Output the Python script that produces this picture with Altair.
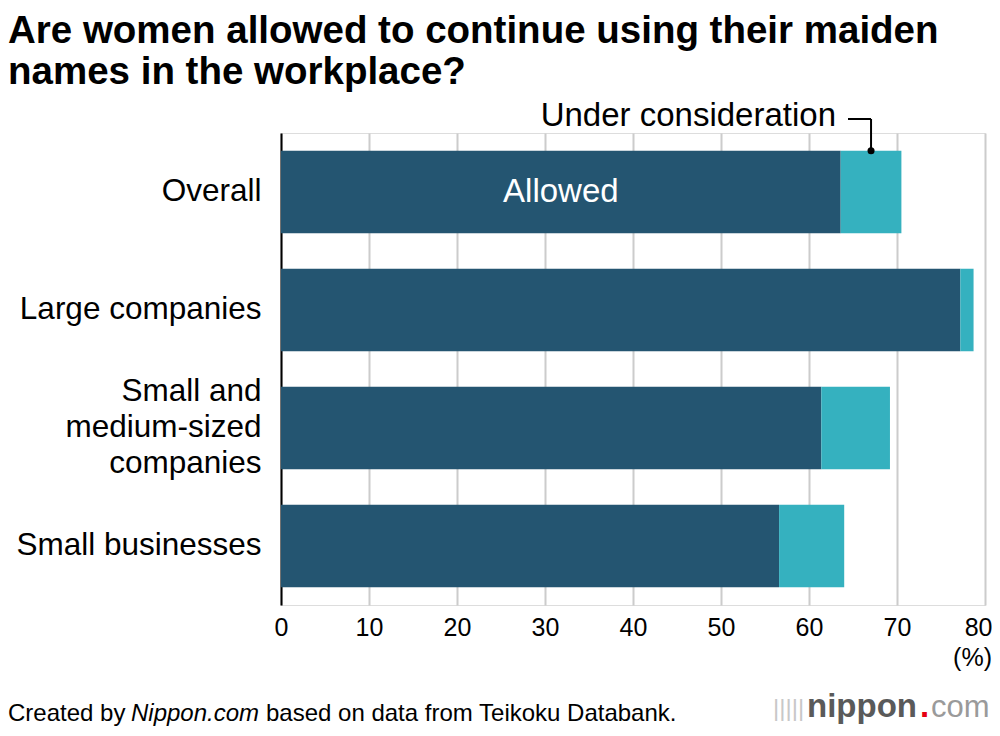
import altair as alt
import pandas as pd

categories = ["Overall", "Large companies", "Small and medium-sized companies", "Small businesses"]
allowed = [63.6, 77.2, 61.4, 56.6]
considering = [6.9, 1.5, 7.8, 7.4]
x_ticks = [0, 10, 20, 30, 40, 50, 60, 70, 80]

title_lines = ["Are women allowed to continue using their maiden", "names in the workplace?"]

DARK = "#245571"
LIGHT = "#35b1bf"
FONT = "Liberation Sans"

df = pd.DataFrame({
    "category": categories,
    "allowed": allowed,
    "considering": considering,
})
df["total"] = df["allowed"] + df["considering"]
df["mid_cons"] = df["allowed"] + df["considering"] / 2
df["mid_allowed"] = df["allowed"] / 2

W, H = 704, 472

y_enc = alt.Y(
    "category:N",
    sort=categories,
    title=None,
    scale=alt.Scale(paddingInner=0.3, paddingOuter=0.15),
    axis=alt.Axis(
        labelFont=FONT, labelFontSize=31.5, labelColor="#000000",
        labelPadding=20, labelLimit=400, ticks=False,
        domainColor="#000000", domainWidth=2,
        labelLineHeight=36,
        labelOffset={"condition": {"test": "datum.value == 'Small and medium-sized companies'", "value": -36}, "value": 0},
        labelExpr="datum.value == 'Small and medium-sized companies' ? ['Small and', 'medium-sized', 'companies'] : datum.value",
    ),
)

x_scale = alt.Scale(domain=[0, 80], nice=False)
x_axis = alt.Axis(
    values=x_ticks, grid=True, gridColor="#cccccc", gridWidth=2,
    domain=False, ticks=False, labelFont=FONT, labelFontSize=25,
    labelColor="#000000", labelPadding=10, title=None, labelFlush=False,
    labelAlign={"condition": {"test": "datum.value == 80", "value": "right"}, "value": "center"},
    labelOffset={"condition": {"test": "datum.value == 80", "value": 7}, "value": 0},
)

base = alt.Chart(df)

bars_allowed = base.mark_bar(color=DARK).encode(
    y=y_enc,
    x=alt.X("allowed:Q", scale=x_scale, axis=x_axis),
)
bars_cons = base.mark_bar(color=LIGHT).encode(
    y=alt.Y("category:N", sort=categories),
    x=alt.X("allowed:Q", scale=x_scale),
    x2="total:Q",
)

overall = base.transform_filter(alt.datum.category == "Overall")

allowed_label = overall.mark_text(
    font=FONT, fontSize=33, color="white", baseline="middle", align="center"
).encode(
    y=alt.Y("category:N", sort=categories),
    x=alt.X("mid_allowed:Q", scale=x_scale),
    text=alt.value("Allowed"),
)

leader_v = overall.mark_rule(color="black", strokeWidth=2).encode(
    x=alt.X("mid_cons:Q", scale=x_scale),
    y=alt.Y("category:N", sort=categories, bandPosition=0),
    y2=alt.value(-14),
)
leader_h = overall.mark_rule(color="black", strokeWidth=2).encode(
    x=alt.X("mid_cons:Q", scale=x_scale),
    x2=alt.value(567),
    y=alt.value(-14),
)
leader_dot = overall.mark_point(filled=True, color="black", size=50, opacity=1).encode(
    x=alt.X("mid_cons:Q", scale=x_scale),
    y=alt.Y("category:N", sort=categories, bandPosition=0),
)
cons_label = alt.Chart(pd.DataFrame({"t": ["Under consideration"]})).mark_text(
    font=FONT, fontSize=33, color="#000000", align="right", baseline="middle"
).encode(x=alt.value(555), y=alt.value(-17), text="t:N")

pct_label = alt.Chart(pd.DataFrame({"t": ["(%)"]})).mark_text(
    font=FONT, fontSize=25, color="#000000", align="right", baseline="middle"
).encode(x=alt.value(711), y=alt.value(525), text="t:N")

title = alt.Chart(pd.DataFrame({"t": [title_lines]})).mark_text(
    font=FONT, fontSize=38.5, fontWeight="bold", color="#000000",
    align="left", baseline="alphabetic", lineHeight=41,
).encode(x=alt.value(-273), y=alt.value(-90), text="t")

foot_base = 588
foot1 = alt.Chart(pd.DataFrame({"t": ["Created by"]})).mark_text(
    font=FONT, fontSize=24, color="#000000", align="left", baseline="alphabetic"
).encode(x=alt.value(-273), y=alt.value(foot_base), text="t:N")
foot2 = alt.Chart(pd.DataFrame({"t": ["Nippon.com"]})).mark_text(
    font=FONT, fontSize=24, fontStyle="italic", color="#000000", align="left", baseline="alphabetic"
).encode(x=alt.value(-150), y=alt.value(foot_base), text="t:N")
foot3 = alt.Chart(pd.DataFrame({"t": ["based on data from Teikoku Databank."]})).mark_text(
    font=FONT, fontSize=24, color="#000000", align="left", baseline="alphabetic"
).encode(x=alt.value(-15), y=alt.value(foot_base), text="t:N")

logo_icon = alt.Chart(pd.DataFrame({"t": ["|||||"]})).mark_text(
    font=FONT, fontSize=24, color="#c8c8c8", align="left", baseline="alphabetic"
).encode(x=alt.value(492), y=alt.value(foot_base - 5), text="t:N")
logo1 = alt.Chart(pd.DataFrame({"t": ["nippon"]})).mark_text(
    font=FONT, fontSize=33, fontWeight="bold", color="#5a5a5a", align="left", baseline="alphabetic"
).encode(x=alt.value(526), y=alt.value(foot_base - 4), text="t:N")
logo2 = alt.Chart(pd.DataFrame({"t": ["."]})).mark_text(
    font=FONT, fontSize=33, fontWeight="bold", color="#e60012", align="left", baseline="alphabetic"
).encode(x=alt.value(639), y=alt.value(foot_base - 4), text="t:N")
logo3 = alt.Chart(pd.DataFrame({"t": ["com"]})).mark_text(
    font=FONT, fontSize=31, color="#9a9a9a", align="left", baseline="alphabetic"
).encode(x=alt.value(650), y=alt.value(foot_base - 4), text="t:N")

chart = alt.layer(
    bars_allowed, bars_cons, allowed_label, leader_v, leader_h, leader_dot,
    cons_label, pct_label, title, foot1, foot2, foot3,
    logo_icon, logo1, logo2, logo3,
).properties(
    width=W, height=H,
    autosize=alt.AutoSizeParams(type="none"),
    padding={"left": 273, "top": 125, "right": 7, "bottom": 121},
).configure_view(stroke=None).configure(background="white")

chart.save("out.html", embed_options={"renderer": "svg", "actions": False})
